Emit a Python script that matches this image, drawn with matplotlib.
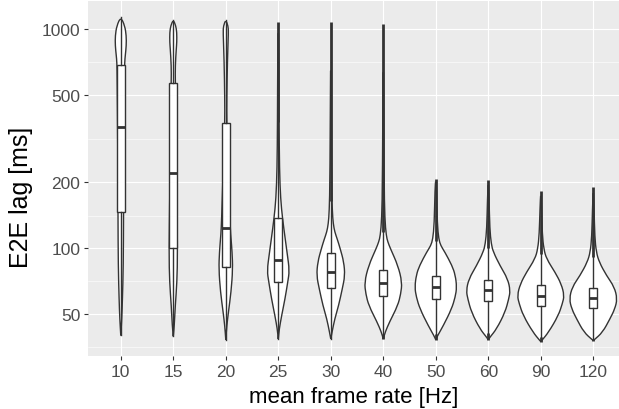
import numpy as np
import matplotlib.pyplot as plt
from matplotlib.path import Path
from matplotlib.patches import PathPatch

plt.rcParams['font.family'] = ['Liberation Sans', 'DejaVu Sans']

# categories (mean frame rate, Hz)
frame_rates = ['10', '15', '20', '25', '30', '40', '50', '60', '90', '120']

# box statistics (E2E lag, ms)
box_q1 = [147, 100.6, 81.9, 70.4, 65.7, 60.8, 58.7, 57.3, 54.7, 53.2]
box_med = [358, 220, 123.4, 88.7, 77.7, 69.2, 66.4, 64.5, 60.8, 59.3]
box_q3 = [687, 569, 373, 137.5, 94.9, 79.6, 75.0, 71.7, 68.0, 66.1]
whisker_lo = [40.0, 39.6, 38.2, 38.5, 38.5, 40.5, 40.6, 40.9, 39.5, 38.5]
whisker_hi = [1138, 1106, 1106, 376, 165, 119, 108, 100, 94, 91.4]
lag_min = [40.0, 39.6, 38.2, 38.5, 38.5, 38.5, 38.2, 38.2, 37.5, 37.9]
lag_max = [1138, 1106, 1106, 1083, 1083, 1057, 207, 206, 183, 191]

# violin outlines: lag levels (ms) and half width (category units)
violin_ms = [
    [40, 47.6, 58.7, 83, 142, 284, 593, 707, 759, 842, 935, 1038, 1138],
    [39.6, 44.3, 54.7, 69.9, 95.9, 168, 389, 573, 682, 813, 872, 969, 1038, 1106],
    [38.2, 44.2, 51.2, 63.2, 80.4, 96.2, 110, 122.5, 168, 284, 377, 480, 732, 972, 1035, 1106],
    [38.5, 42.8, 49.1, 58.7, 70.2, 79, 94.2, 110, 136, 168, 230, 377, 732, 1083],
    [38.5, 41.5, 47.6, 54.7, 65.2, 75, 86.6, 99.3, 110, 118.7, 129, 146.6, 207, 1083],
    [38.5, 41.5, 46.1, 54.7, 61.8, 69.9, 83.3, 99.3, 106.9, 114.2, 136, 207, 1057],
    [38.2, 40, 44.3, 52.8, 59.9, 66.4, 75.5, 83.3, 96.2, 102.8, 110, 129, 186.6, 207],
    [38.2, 39.4, 42.8, 51, 58.7, 64, 72.4, 83.3, 96.2, 104.6, 122.5, 168, 206],
    [37.5, 37.9, 41.3, 49.2, 55.7, 60.8, 68.7, 77.7, 89.4, 99.3, 116.2, 151, 183],
    [37.9, 38.2, 41.3, 47.6, 52.8, 58.7, 66.6, 75, 86.3, 96.2, 112.6, 151, 191],
]
violin_hw = [
    [0, .019, .032, .048, .053, .057, .069, .074, .086, .105, .105, .076, 0],
    [0, .019, .038, .070, .082, .067, .057, .038, .038, .057, .067, .067, .048, 0],
    [0, .019, .051, .101, .133, .120, .101, .086, .067, .038, .019, .019, .032, .051, .044, 0],
    [0, .019, .063, .128, .181, .213, .171, .133, .082, .044, .023, .015, .011, 0],
    [0, .025, .076, .149, .219, .270, .248, .181, .124, .076, .048, .029, .015, 0],
    [0, .038, .120, .276, .333, .358, .280, .139, .086, .057, .029, .015, 0],
    [0, .038, .143, .301, .371, .400, .371, .310, .171, .095, .057, .029, .015, 0],
    [0, .038, .158, .320, .390, .419, .371, .223, .095, .057, .029, .015, 0],
    [0, .019, .147, .333, .410, .448, .390, .272, .110, .057, .029, .015, 0],
    [0, .019, .177, .318, .410, .457, .400, .253, .114, .057, .029, .015, 0],
]

y_breaks = [50, 100, 200, 500, 1000]
y_minor = [35.4, 70.7, 141, 316, 707]

dark = '#333333'


def smooth_outline(xs, ys):
    # quadratic b-spline through the outline points (midpoints taken in log y)
    verts = [(xs[0], ys[0])]
    codes = [Path.MOVETO]
    mid = lambda a, b: ((xs[a] + xs[b]) / 2, np.sqrt(ys[a] * ys[b]))
    verts.append(mid(0, 1))
    codes.append(Path.LINETO)
    for k in range(1, len(xs) - 1):
        verts += [(xs[k], ys[k]), mid(k, k + 1)]
        codes += [Path.CURVE3, Path.CURVE3]
    verts.append((xs[-1], ys[-1]))
    codes.append(Path.LINETO)
    return verts, codes


fig = plt.figure(figsize=(6.19, 4.10), dpi=100)
ax = fig.add_axes([87.7 / 619, 1 - 357.3 / 410, (619 - 87.7) / 619, 355.0 / 410])
ax.set_facecolor('#EBEBEB')
ax.set_yscale('log')
ax.set_xlim(-0.63, 9.49)
ax.set_ylim(32.1, 1342)

positions = np.arange(len(frame_rates))

# violins
for i in positions:
    ms = np.array(violin_ms[i], dtype=float)
    hw = np.array(violin_hw[i])
    xs = np.concatenate([i + hw, (i - hw)[::-1][1:]])
    ys = np.concatenate([ms, ms[::-1][1:]])
    verts, codes = smooth_outline(xs, ys)
    ax.add_patch(PathPatch(Path(verts, codes), facecolor='white', edgecolor=dark,
                           linewidth=1.0, zorder=2))

# outliers show up as a thick dark line beyond the whiskers
for i in positions:
    if lag_max[i] > whisker_hi[i]:
        ax.vlines(i, whisker_hi[i], lag_max[i], color=dark, linewidth=2.0, zorder=2.5)
    if lag_min[i] < whisker_lo[i]:
        ax.vlines(i, lag_min[i], whisker_lo[i], color=dark, linewidth=2.0, zorder=2.5)

# boxplots
stats = []
for i in positions:
    stats.append(dict(med=box_med[i], q1=box_q1[i], q3=box_q3[i],
                      whislo=whisker_lo[i], whishi=whisker_hi[i], fliers=[]))
ax.bxp(stats, positions=positions, widths=0.15, showfliers=False, showcaps=False,
       patch_artist=True, manage_ticks=False,
       boxprops=dict(facecolor='white', edgecolor=dark, linewidth=1.0),
       medianprops=dict(color=dark, linewidth=2.0, solid_capstyle='butt'),
       whiskerprops=dict(color=dark, linewidth=1.0), zorder=3)

ax.set_xticks(positions)
ax.set_xticklabels(frame_rates)
ax.set_yticks(y_breaks)
ax.set_yticklabels([str(b) for b in y_breaks])
ax.set_yticks(y_minor, minor=True)
ax.yaxis.set_minor_formatter(plt.NullFormatter())

ax.grid(which='major', color='white', linewidth=0.8, zorder=0)
ax.grid(which='minor', axis='y', color='white', linewidth=0.4, zorder=0)
ax.set_axisbelow(True)
for s in ax.spines.values():
    s.set_visible(False)
ax.tick_params(which='major', length=2.75, width=0.8, color=dark,
               labelcolor='#4D4D4D', labelsize=12.5, pad=2.5)
ax.tick_params(which='minor', length=0)

ax.set_xlabel('mean frame rate [Hz]', fontsize=16)
ax.set_ylabel('E2E lag [ms]', fontsize=18)
ax.xaxis.set_label_coords(0.5, -0.112)
ax.xaxis.label.set_va('center')
ax.yaxis.set_label_coords(-0.125, 0.4515)
ax.yaxis.label.set_va('center')

fig.savefig('out.png', dpi=100)
